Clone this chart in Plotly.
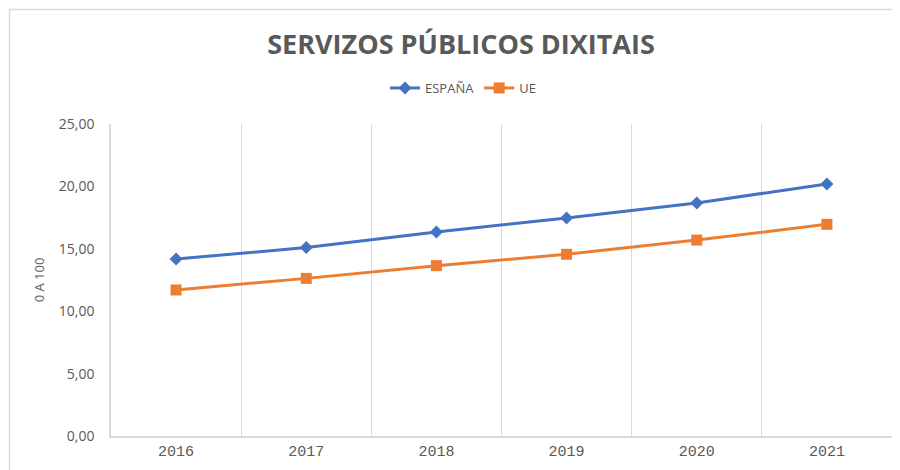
import plotly.graph_objects as go

years = ["2016", "2017", "2018", "2019", "2020", "2021"]
espana = [14.18, 15.10, 16.35, 17.47, 18.67, 20.20]
ue = [11.70, 12.63, 13.65, 14.56, 15.70, 16.96]

# page body has an 8px margin; figure coords = screen - 8
OFF = 8
W, H = 900 - OFF, 470 - OFF
L, T = 111 - OFF, 124 - OFF
R = W - (892 - OFF)
B = H - (436 - OFF)
pw, ph = W - L - R, H - T - B

fig = go.Figure()
fig.add_trace(go.Scatter(x=years, y=espana, name="ESPAÑA", mode="lines+markers",
                         line=dict(color="#4472C4", width=3),
                         marker=dict(symbol="diamond", size=10, color="#4472C4")))
fig.add_trace(go.Scatter(x=years, y=ue, name="UE", mode="lines+markers",
                         line=dict(color="#ED7D31", width=3),
                         marker=dict(symbol="square", size=11, color="#ED7D31")))

def sx(px):
    return (px - OFF - L) / pw

def sy(py):
    return (H - B - (py - OFF)) / ph

fig.add_shape(type="rect", xref="paper", yref="paper",
              x0=sx(9.5), x1=sx(920), y0=sy(490), y1=sy(9.5),
              line=dict(color="#d9d9d9", width=1.5), fillcolor="rgba(0,0,0,0)", layer="below")

fig.update_layout(
    width=W, height=H,
    margin=dict(l=L, r=R, t=T, b=B, autoexpand=False),
    paper_bgcolor="white", plot_bgcolor="white",
    separators=",.",
    font=dict(family="Open Sans", color="#595959"),
    title=dict(text="<b>SERVIZOS PÚBLICOS DIXITAIS</b>", x=(461 - OFF) / W, xanchor="center",
               y=1 - (45 - OFF) / H, yanchor="middle",
               font=dict(size=27, color="#595959", family="Open Sans")),
    legend=dict(orientation="h", x=sx(463), xanchor="center", y=sy(88), yanchor="middle",
                font=dict(size=13, color="#595959"), traceorder="normal"),
    showlegend=True,
)
fig.update_xaxes(type="category", tickson="boundaries", showgrid=True, gridcolor="#d9d9d9",
                 gridwidth=1, showline=True, linecolor="#d9d9d9", linewidth=1.5,
                 ticks="", tickfont=dict(size=15, color="#595959", family="Liberation Mono"),
                 range=[-0.5, 5.5], fixedrange=True, automargin=False)
fig.update_yaxes(range=[0, 25], dtick=5, tickformat=".2f", showgrid=False, zeroline=False,
                 showline=True, linecolor="#d9d9d9", linewidth=1.5, ticks="",
                 ticklabelstandoff=12, automargin=False,
                 tickfont=dict(size=14, color="#595959"),
                 title=dict(text="0 A 100", font=dict(size=13, color="#595959"), standoff=11))

fig.write_html("out.html")
